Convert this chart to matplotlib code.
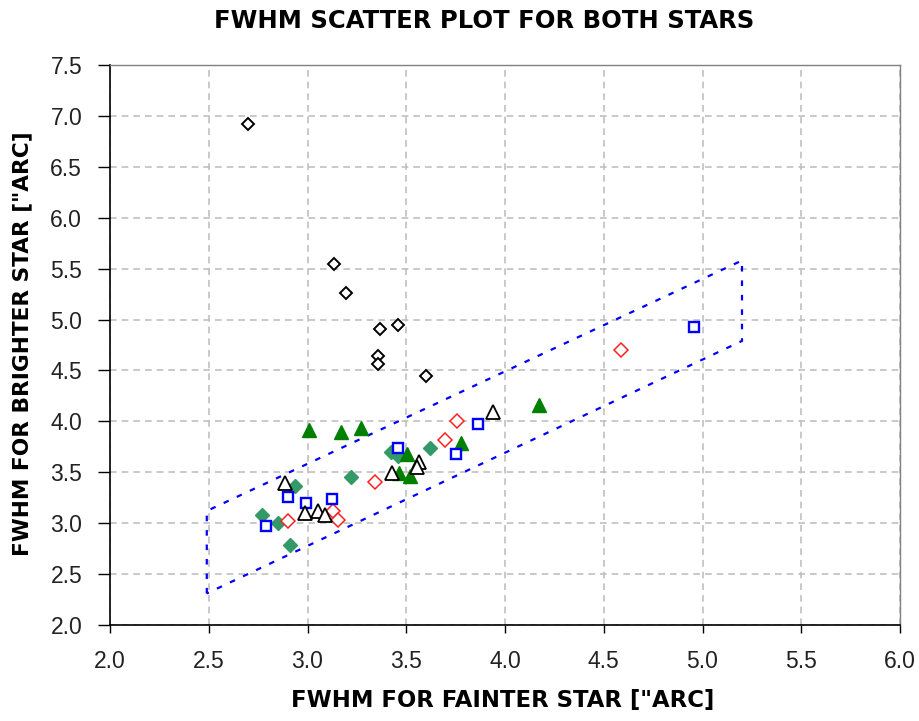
import matplotlib
matplotlib.use("Agg")
import matplotlib.pyplot as plt

# ---- data ----
black_diam_x = [2.70, 3.136, 3.197, 3.369, 3.46, 3.358, 3.358, 3.60]
black_diam_y = [6.92, 5.543, 5.263, 4.91, 4.943, 4.641, 4.566, 4.445]

green_tri_x = [3.008, 3.17, 3.27, 3.502, 3.463, 3.52, 3.776, 4.172]
green_tri_y = [3.915, 3.898, 3.937, 3.679, 3.495, 3.463, 3.79, 4.16]

sea_diam_x = [2.768, 2.852, 2.911, 2.937, 3.219, 3.423, 3.46, 3.62]
sea_diam_y = [3.082, 3.004, 2.788, 3.361, 3.453, 3.701, 3.659, 3.735]

blue_sq_x = [2.791, 2.901, 2.992, 3.126, 3.46, 3.752, 3.865, 4.958]
blue_sq_y = [2.972, 3.253, 3.195, 3.234, 3.741, 3.679, 3.976, 4.926]

red_diam_x = [2.90, 3.131, 3.153, 3.343, 3.696, 3.758, 4.589]
red_diam_y = [3.018, 3.12, 3.03, 3.407, 3.816, 4.006, 4.697]

black_tri_x = [2.885, 2.987, 3.052, 3.089, 3.426, 3.563, 3.556, 3.941]
black_tri_y = [3.397, 3.102, 3.119, 3.080, 3.495, 3.603, 3.548, 4.094]

band_x = [2.49, 2.49, 5.2, 5.2, 2.49]
band_y = [2.31, 3.12, 5.58, 4.79, 2.31]

xticks = [2.0, 2.5, 3.0, 3.5, 4.0, 4.5, 5.0, 5.5, 6.0]
yticks = [2.0, 2.5, 3.0, 3.5, 4.0, 4.5, 5.0, 5.5, 6.0, 6.5, 7.0, 7.5]

plt.rcParams['font.family'] = ['Liberation Sans', 'DejaVu Sans']

fig = plt.figure(figsize=(9.19, 7.21), dpi=100)
ax = fig.add_axes([110/919, 1-625/721, 790/919, 560/721])

ax.set_xlim(2.0, 6.0)
ax.set_ylim(2.0, 7.5)
ax.set_xticks(xticks)
ax.set_yticks(yticks)
ax.set_xticklabels([f"{v:.1f}" for v in xticks])
ax.set_yticklabels([f"{v:.1f}" for v in yticks])
ax.tick_params(axis='x', direction='out', length=6, width=1, labelsize=16.5,
               colors='black', pad=12)
ax.tick_params(axis='y', direction='out', length=9, width=1, labelsize=16.5,
               colors='black', pad=11)
for lab in ax.get_xticklabels() + ax.get_yticklabels():
    lab.set_color('#222222')

ax.grid(True, color='#c0c0c0', linestyle=(0, (4, 3)), linewidth=1.2, zorder=0)
ax.set_axisbelow(True)

for s in ['top', 'right']:
    ax.spines[s].set_color('#808080')
    ax.spines[s].set_linewidth(1)
for s in ['left', 'bottom']:
    ax.spines[s].set_color('black')
    ax.spines[s].set_linewidth(1.2)

ax.plot(band_x, band_y, color='#0000ff', linestyle=(0, (2.5, 4)), linewidth=1.6, zorder=2)

ax.plot(black_diam_x, black_diam_y, linestyle='none', marker='D', markersize=6.5,
        markerfacecolor='white', markeredgecolor='black', markeredgewidth=1.4, zorder=3)
ax.plot(sea_diam_x, sea_diam_y, linestyle='none', marker='D', markersize=7,
        markerfacecolor='#339966', markeredgecolor='#339966', markeredgewidth=1, zorder=3)
ax.plot(green_tri_x, green_tri_y, linestyle='none', marker='^', markersize=10.5,
        markerfacecolor='#008000', markeredgecolor='#008000', markeredgewidth=1, zorder=3)
ax.plot(red_diam_x, red_diam_y, linestyle='none', marker='D', markersize=7,
        markerfacecolor='white', markeredgecolor='#ff2020', markeredgewidth=1.1, zorder=3)
ax.plot(blue_sq_x, blue_sq_y, linestyle='none', marker='s', markersize=7.5,
        markerfacecolor='white', markeredgecolor='#0000ff', markeredgewidth=1.7, zorder=4)
ax.plot(black_tri_x, black_tri_y, linestyle='none', marker='^', markersize=10.5,
        markerfacecolor='white', markeredgecolor='black', markeredgewidth=1.3, zorder=4)

fig.text(484/919, 1-21/721, 'FWHM SCATTER PLOT FOR BOTH STARS', ha='center', va='center',
         fontsize=17.5, fontweight='bold', family='DejaVu Sans')
fig.text(503/919, 1-701/721, 'FWHM FOR FAINTER STAR ["ARC]', ha='center', va='center',
         fontsize=16.4, fontweight='bold', family='DejaVu Sans')
fig.text(22/919, 1-344/721, 'FWHM FOR BRIGHTER STAR ["ARC]', ha='center', va='center',
         fontsize=15.6, fontweight='bold', rotation=90, family='DejaVu Sans')

fig.savefig('out.png', dpi=100)
